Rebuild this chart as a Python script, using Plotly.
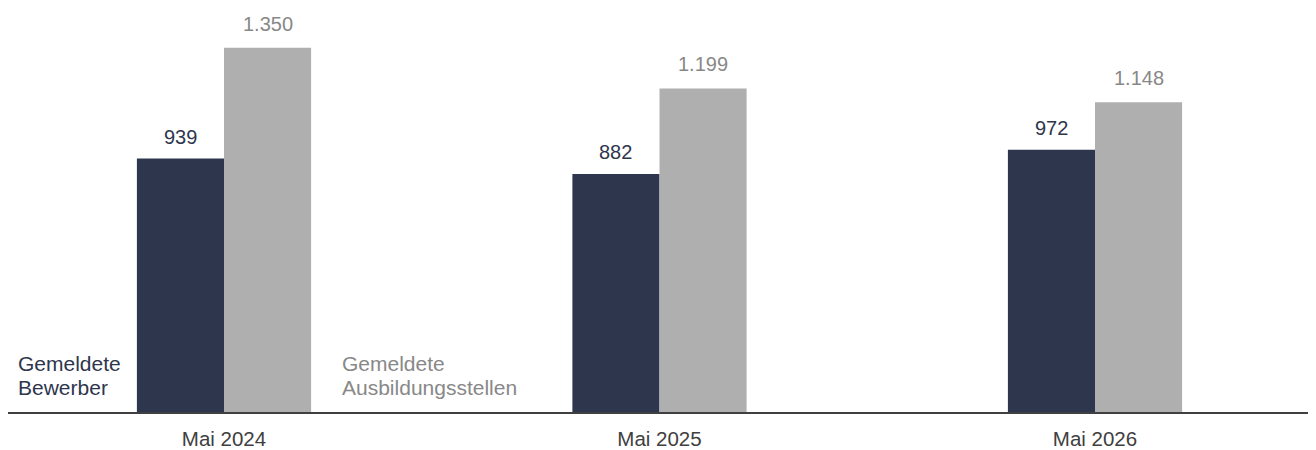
import plotly.graph_objects as go

categories = ["Mai 2024", "Mai 2025", "Mai 2026"]
bewerber = [939, 882, 972]
stellen = [1350, 1199, 1148]
label_bewerber = ["Gemeldete", "Bewerber"]
label_stellen = ["Gemeldete", "Ausbildungsstellen"]

DARK = "#2e364d"
GRAY = "#afafaf"
GRAY_TXT = "#888888"
AXIS = "#404040"
FONT = "Liberation Sans, Arial, sans-serif"

# pixel helpers (page body has an 8px margin; figure spans 8..1316 horizontally)
PX_PER_CAT = 435.5
CAT0_PX = 224.0
BASE_PX = 416.0
PX_PER_UNIT = 0.2726


def xdat(px):
    return (px - CAT0_PX) / PX_PER_CAT


def ydat(px):
    return (BASE_PX - px) / PX_PER_UNIT


def de(v):
    return f"{v:,}".replace(",", ".")


fig = go.Figure()
fig.add_trace(go.Bar(x=categories, y=bewerber, marker_color=DARK, marker_line_width=0,
                     hoverinfo="skip", offsetgroup="a"))
fig.add_trace(go.Bar(x=categories, y=stellen, marker_color=GRAY, marker_line_width=0,
                     hoverinfo="skip", offsetgroup="b"))

annotations = []
for i, c in enumerate(categories):
    annotations.append(dict(x=i - 0.1, y=bewerber[i], xref="x", yref="y", text=de(bewerber[i]),
                            showarrow=False, yanchor="middle", yshift=22,
                            font=dict(size=20, color=DARK, family=FONT)))
    annotations.append(dict(x=i + 0.1, y=stellen[i], xref="x", yref="y", text=de(stellen[i]),
                            showarrow=False, yanchor="middle", yshift=24,
                            font=dict(size=20, color=GRAY_TXT, family=FONT)))

for k, line in enumerate(label_bewerber):
    annotations.append(dict(x=xdat(16), y=ydat(367 + 24 * k), xref="x", yref="y", text=line,
                            showarrow=False, xanchor="left", yanchor="middle",
                            font=dict(size=21, color=DARK, family=FONT)))
for k, line in enumerate(label_stellen):
    annotations.append(dict(x=xdat(340), y=ydat(367 + 24 * k), xref="x", yref="y", text=line,
                            showarrow=False, xanchor="left", yanchor="middle",
                            font=dict(size=21, color=GRAY_TXT, family=FONT)))

fig.update_layout(
    width=1308, height=442,
    margin=dict(l=0, r=0, t=12, b=34),
    paper_bgcolor="white", plot_bgcolor="white",
    barmode="group", bargap=0.6, bargroupgap=0,
    showlegend=False,
    font=dict(family=FONT, size=20.5, color=AXIS),
    annotations=annotations,
)
fig.update_xaxes(showline=True, linecolor=AXIS, linewidth=2, showgrid=False,
                 ticks="", ticklabelstandoff=7,
                 tickfont=dict(size=20.5, color=AXIS, family=FONT),
                 range=[xdat(8), xdat(1316)])
fig.update_yaxes(visible=False, range=[0, 396 / PX_PER_UNIT], showgrid=False, zeroline=False)

fig.write_html("out.html")
